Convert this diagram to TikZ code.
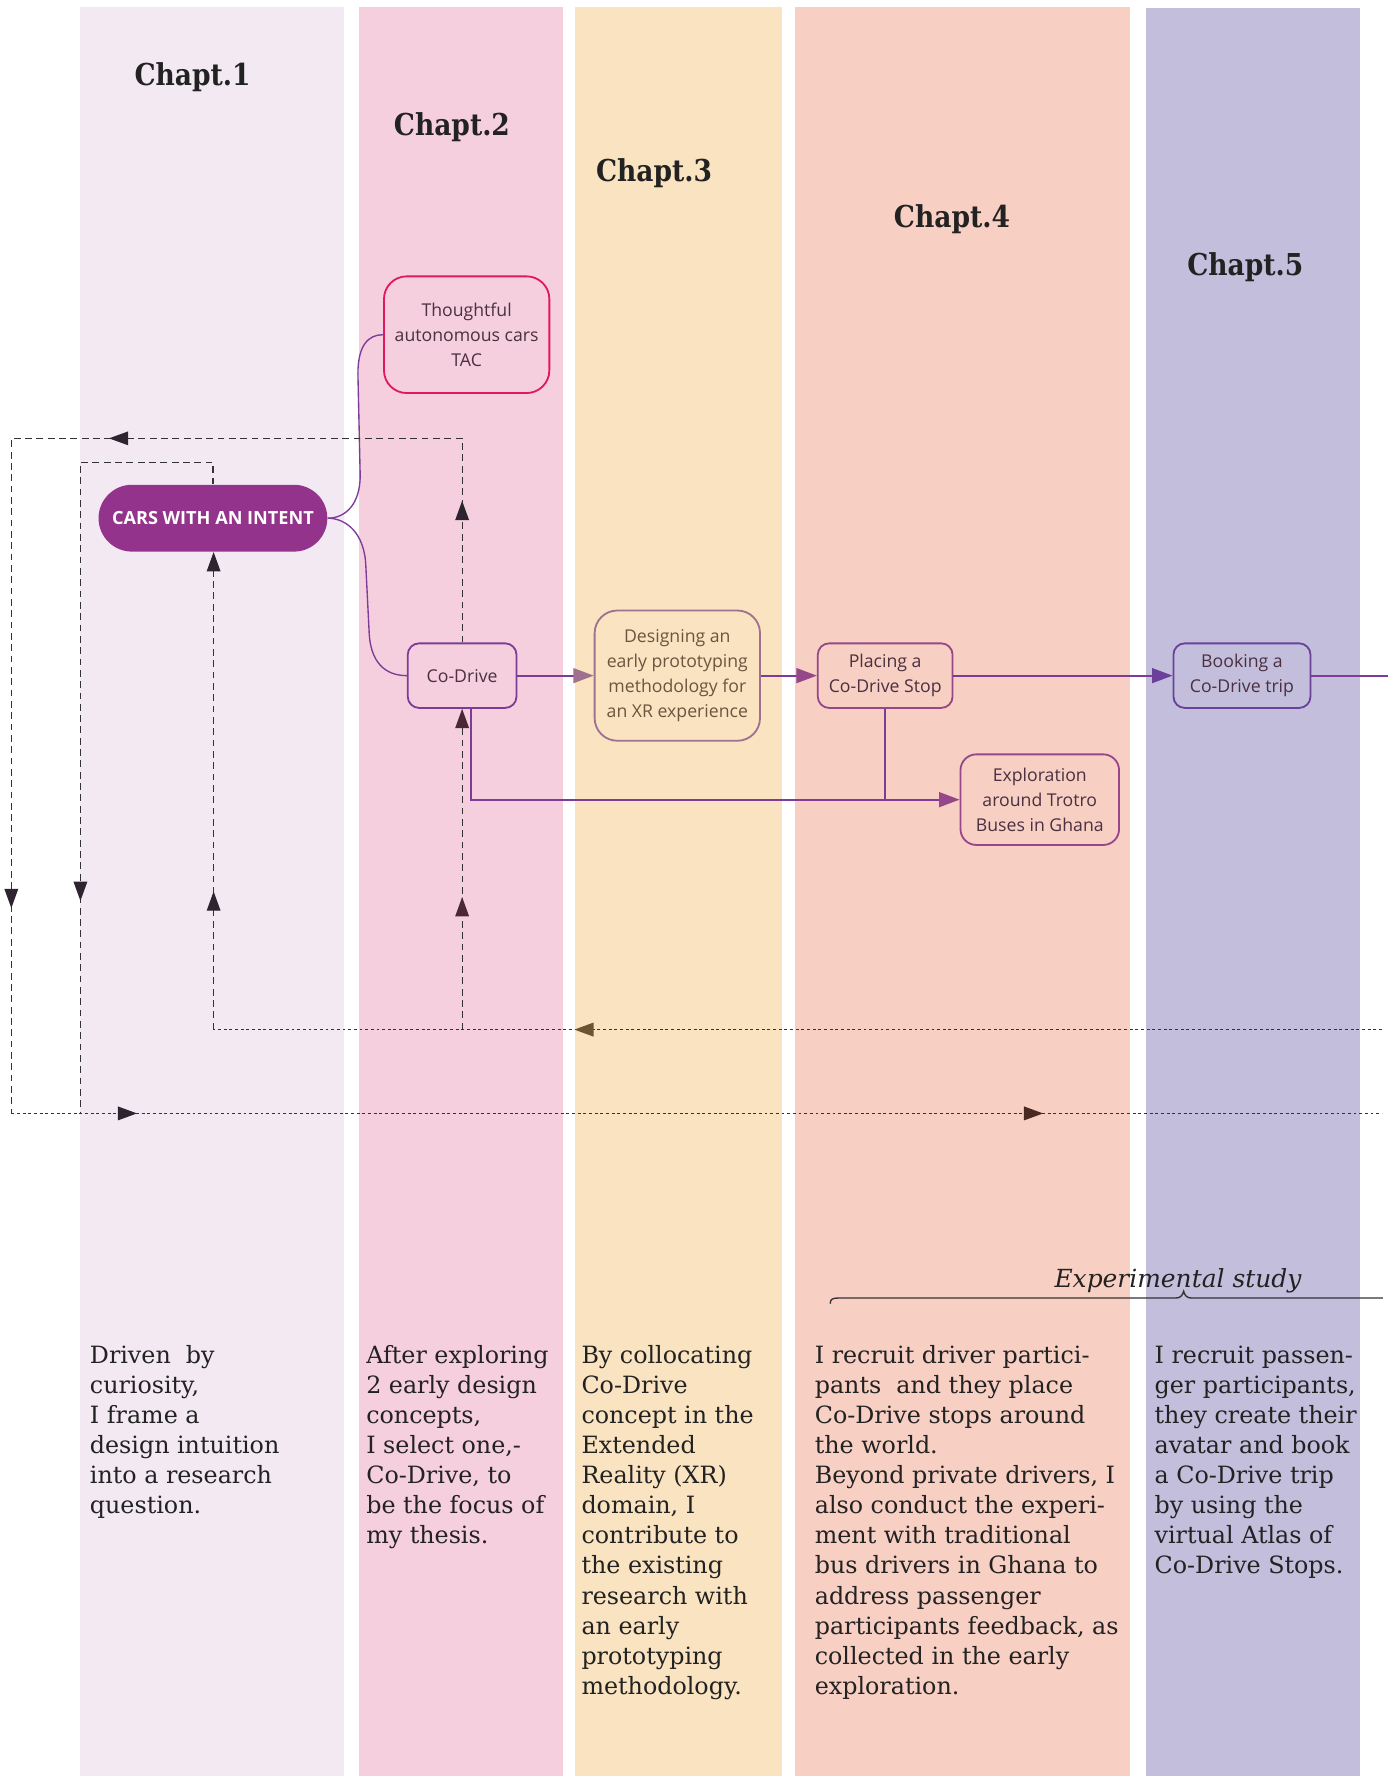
\documentclass[tikz,border=0pt]{standalone}
\usepackage{fontspec}
\setmainfont{DejaVu Serif}
\newfontfamily\nodefont{Open Sans}
\newfontfamily\chapfont[FakeStretch=0.88]{DejaVu Serif}
\usetikzlibrary{arrows.meta,decorations.markings}
\definecolor{cA}{HTML}{F2E9F2}
\definecolor{cB}{HTML}{F5CFDD}
\definecolor{cC}{HTML}{F9E3C1}
\definecolor{cD}{HTML}{F7CFC3}
\definecolor{cE}{HTML}{C2BEDB}
\definecolor{carsfill}{HTML}{93338B}
\definecolor{tacborder}{HTML}{E0185E}
\definecolor{purp}{HTML}{7D3C98}
\definecolor{plum}{HTML}{95478A}
\definecolor{mauve}{HTML}{A0708F}
\definecolor{violetb}{HTML}{6A409A}
\definecolor{dashc}{HTML}{333333}
\definecolor{tipc}{HTML}{2E2430}
\definecolor{tipm}{HTML}{4A2838}
\definecolor{tipo}{HTML}{6B5530}
\definecolor{tipb}{HTML}{4A2A20}
\definecolor{txt}{HTML}{222222}
\definecolor{ntxt}{HTML}{4A3040}
\definecolor{dtxt}{HTML}{6B5540}
\begin{document}
\begin{tikzpicture}[x=0.5pt,y=-0.5pt,
  box/.style={draw, line width=0.8pt, align=center, inner sep=0pt, text=ntxt,
    font=\nodefont\fontsize{7.8}{11}\selectfont},
  chap/.style={font=\chapfont\bfseries\fontsize{13.3}{15}\selectfont, text=txt, anchor=base, inner sep=0pt},
  para/.style={font=\fontsize{10.5}{13.3}\selectfont, text=txt, align=left, anchor=north west, inner sep=0pt},
  pline/.style={draw=purp, line width=0.9pt},
  pthin/.style={draw=purp, line width=0.6pt},
  ptip/.tip={Triangle[length=9pt,width=6.5pt]},
  dtip/.tip={Triangle[length=8.5pt,width=6pt]},
  dline/.style={draw=dashc, line width=0.55pt, dash pattern=on 3pt off 2pt},
  dotline/.style={draw=dashc, line width=0.75pt, dash pattern=on 1.3pt off 1.2pt},
]
\useasboundingbox[fill=white] (0,0) rectangle (1233,1568);
% columns
\fill[cA] (71,6) rectangle (304,1568);
\fill[cB] (317,6) rectangle (497,1568);
\fill[cC] (508,6) rectangle (690,1568);
\fill[cD] (702,6) rectangle (998,1568);
\fill[cE] (1012,7) rectangle (1201,1568);
% titles
\node[chap] (t1) at (170,75.5) {Chapt.1};
\node[chap] (t2) at (399,119.5) {Chapt.2};
\node[chap] (t3) at (577.5,160.5) {Chapt.3};
\node[chap] (t4) at (840.5,200.5) {Chapt.4};
\node[chap] (t5) at (1099.5,243.5) {Chapt.5};
% nodes
\node[box, draw=tacborder, minimum width=73pt, minimum height=51.5pt, rounded corners=10pt] (tac) at (412,295.5) {Thoughtful\\autonomous cars\\TAC};
\node[fill=carsfill, rounded corners=14.75pt, minimum width=101pt, minimum height=29.5pt, inner sep=0pt, text=white, font=\nodefont\bfseries\fontsize{8}{10}\selectfont] (cars) at (188,457.5) {CARS WITH AN INTENT};
\node[box, draw=purp, minimum width=48pt, minimum height=28.5pt, rounded corners=5pt] (codrive) at (408,596.5) {Co-Drive};
\node[box, draw=mauve, text=dtxt, minimum width=73pt, minimum height=57.5pt, rounded corners=10pt] (design) at (598,596.5) {Designing an\\early prototyping\\methodology for\\an XR experience};
\node[box, draw=plum, minimum width=59.5pt, minimum height=28.5pt, rounded corners=5pt] (place) at (781.5,596.5) {Placing a\\Co-Drive Stop};
\node[box, draw=plum, minimum width=70pt, minimum height=40pt, rounded corners=7pt] (explo) at (918,706) {Exploration\\around Trotro\\Buses in Ghana};
\node[box, draw=violetb, minimum width=60.5pt, minimum height=28.5pt, rounded corners=5pt] (book) at (1096.5,596.5) {Booking a\\Co-Drive trip};
\coordinate (rend) at (1225,596.5);
% purple connectors
\draw[pthin] (cars.east) .. controls (305,457.5) and (318,445) .. (318,420) -- (316,330) .. controls (316,305) and (325,295.5) .. (tac.west);
\draw[pthin] (cars.east) .. controls (305,457.5) and (322,470) .. (323,500) -- (326,560) .. controls (328,590) and (345,596.5) .. (codrive.west);
\draw[pline, -{ptip[color=mauve]}] (codrive) -- (design);
\draw[pline, -{ptip[color=plum]}] (design) -- (place);
\draw[pline, -{ptip[color=violetb]}] (place) -- (book);
\draw[pline] (book) -- (rend);
\draw[pline, -{ptip[color=plum]}] ([xshift=4pt]codrive.south) |- (explo.west);
\draw[pline] (place.south) -- (place.south |- explo.west);
% dashed loops
\coordinate (otl) at (10,387);
\coordinate (obl) at (10,983);
\coordinate (obr) at (1220,983);
\coordinate (itl) at (71,408);
\coordinate (ibl) at (71,983);
\coordinate (rr) at (1220,909);
\coordinate (ra) at (188.6,909);
\coordinate (rb) at (408,909);
\draw[dline, postaction={decorate}, decoration={markings,
   mark=at position 62.5pt with {\arrow[tipc]{dtip}},
   mark=at position 246pt with {\arrow[tipc]{dtip}},
   mark=at position 496.5pt with {\arrow[tipc]{dtip}}}]
   (codrive.north) |- (otl) -- (obl);
\draw[dotline, postaction={decorate}, decoration={markings,
   mark=at position 55.5pt with {\arrow[tipc]{dtip}},
   mark=at position 455.5pt with {\arrow[tipb]{dtip}}}]
   (obl) -- (obr);
\draw[dline, postaction={decorate}, decoration={markings,
   mark=at position 262pt with {\arrow[tipc]{dtip}}}]
   (cars.north) |- (itl) -- (ibl);
\draw[dotline, postaction={decorate}, decoration={markings,
   mark=at position 356.5pt with {\arrow[tipo]{dtip}}}]
   (rr) -- (ra);
\draw[dline, -{dtip[color=tipc]}, postaction={decorate}, decoration={markings,
   mark=at position 61pt with {\arrow[tipc]{dtip}}}]
   (ra) -- (cars.south -| ra);
\draw[dline, -{dtip[color=tipm]}, postaction={decorate}, decoration={markings,
   mark=at position 58.5pt with {\arrow[tipm]{dtip}}}]
   (rb) -- (codrive.south);
% experimental study brace
\node[font=\itshape\fontsize{11}{13}\selectfont, text=txt, anchor=base, inner sep=0pt] (exp) at (1040,1137) {Experimental study};
\draw[draw=dashc, line width=0.6pt] (733,1151) .. controls (733,1147) and (735,1146) .. (740,1146) -- (1038,1146) .. controls (1042,1146) and (1044,1144) .. (1045,1140) .. controls (1046,1144) and (1048,1146) .. (1052,1146) -- (1221,1146);
% paragraphs
\node[para] (p1) at (79,1184.4) {\strut Driven\ \ by\\curiosity,\\I frame a\\design intuition\\into a research\\question.};
\node[para] (p2) at (323,1184.4) {\strut After exploring\\2 early design\\concepts,\\I select one,-\\Co-Drive, to\\be the focus of\\my thesis.};
\node[para] (p3) at (513,1184.4) {\strut By collocating\\Co-Drive\\concept in the\\Extended\\Reality (XR)\\domain, I\\contribute to\\the existing\\research with\\an early\\prototyping\\methodology.};
\node[para] (p4) at (719,1184.4) {\strut I recruit driver partici-\\pants\ \ and they place\\Co-Drive stops around\\the world.\\Beyond private drivers, I\\also conduct the experi-\\ment with traditional\\bus drivers in Ghana to\\address passenger\\participants feedback, as\\collected in the early\\exploration.};
\node[para] (p5) at (1019,1184.4) {\strut I recruit passen-\\ger participants,\\they create their\\avatar and book\\a Co-Drive trip\\by using the\\virtual Atlas of\\Co-Drive Stops.};
\end{tikzpicture}
\end{document}
